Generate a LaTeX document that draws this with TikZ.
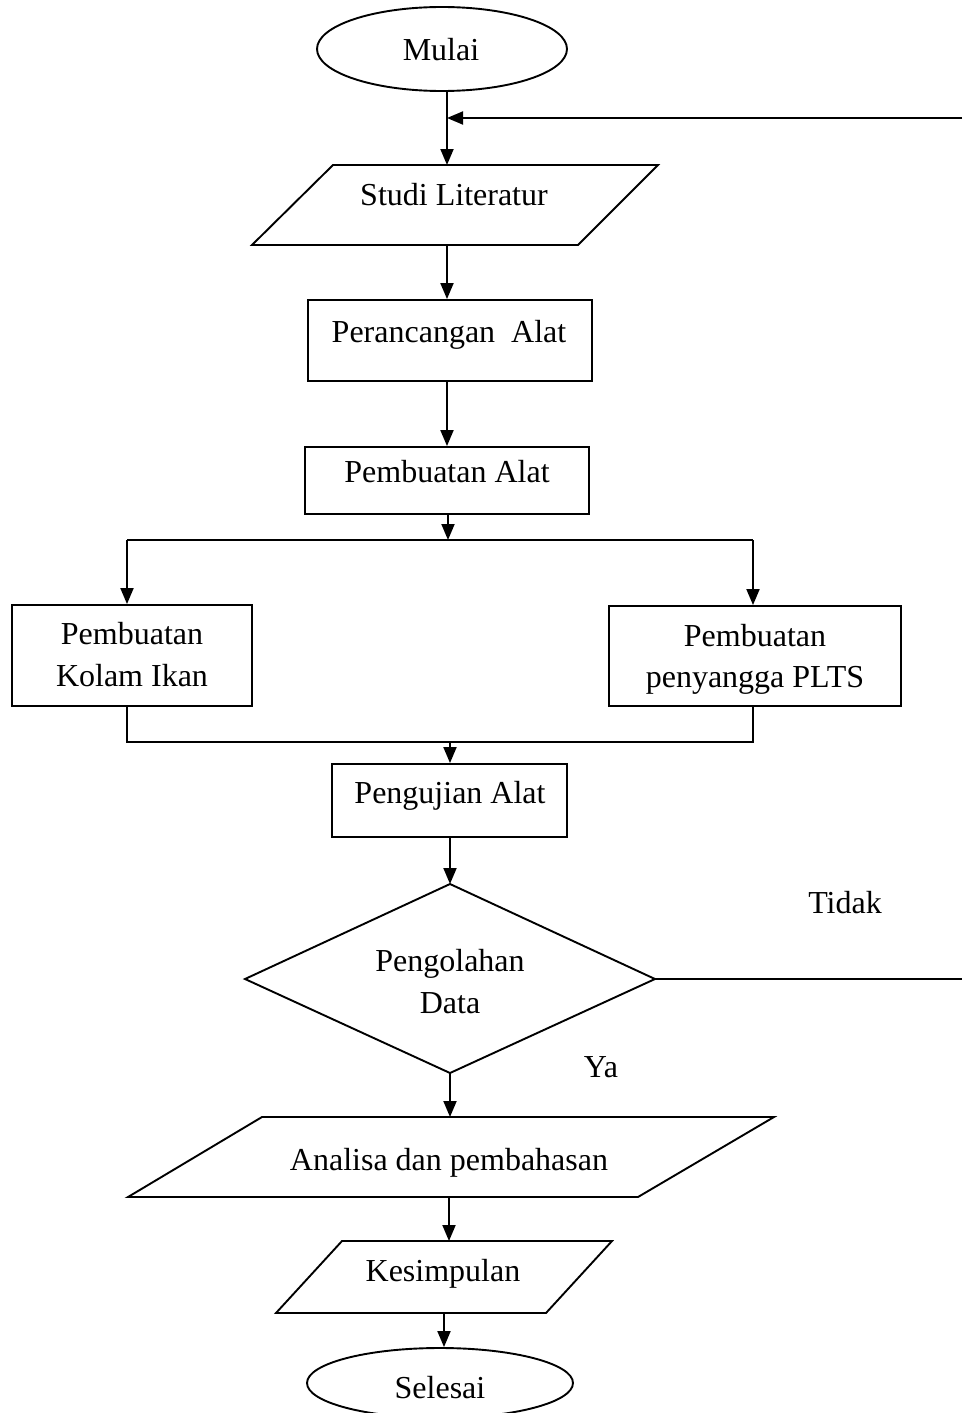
\documentclass[tikz,border=0pt]{standalone}
\usepackage{fontspec}
\setmainfont{Liberation Serif}
\usetikzlibrary{arrows.meta,shapes.geometric}
\begin{document}
\begin{tikzpicture}[x=1pt,y=-1pt,
  line width=1.9pt,
  box/.style={draw, rectangle, inner sep=0pt},
  oval/.style={draw, ellipse, inner sep=0pt},
  txt/.style={anchor=base, inner sep=0pt, font=\fontsize{32}{38}\selectfont},
  arr/.style={-{Triangle[length=16pt,width=13pt]}}]
\useasboundingbox (0,0) rectangle (962,1413);

% start
\node[oval, minimum width=250pt, minimum height=84pt] (mulai) at (442,49) {};
\node[txt] (mulaitxt) at (441,61) {Mulai};

% studi literatur
\coordinate (sTL) at (333,165); \coordinate (sTR) at (658,165);
\coordinate (sBR) at (578,245); \coordinate (sBL) at (252,245);
\coordinate (studiT) at (447,165); \coordinate (studiB) at (447,245);
\draw (sTL) -- (sTR) -- (sBR) -- (sBL) -- cycle;
\node[txt] (studitxt) at (454,205) {Studi Literatur};

% perancangan
\node[box, minimum width=284pt, minimum height=81pt] (peran) at (450,340.5) {};
\node[txt] (perantxt) at (449,342) {Perancangan\ \ Alat};

% pembuatan alat
\node[box, minimum width=284pt, minimum height=67pt] (buat) at (447,480.5) {};
\node[txt] (buattxt) at (447,482) {Pembuatan Alat};

% branches
\coordinate (split) at (448,540);
\coordinate (splitL) at (127,540);
\coordinate (splitR) at (753,540);
\coordinate (join) at (450,742);

\node[box, minimum width=240pt, minimum height=101pt] (kolam) at (132,655.5) {};
\node[txt] (kolamA) at (132,644) {Pembuatan};
\node[txt] (kolamB) at (132,686) {Kolam Ikan};

\node[box, minimum width=292pt, minimum height=100pt] (sangga) at (755,656) {};
\node[txt] (sanggaA) at (755,646) {Pembuatan};
\node[txt] (sanggaB) at (755,687) {penyangga PLTS};

% pengujian
\node[box, minimum width=235pt, minimum height=73pt] (uji) at (449.5,800.5) {};
\node[txt] (ujitxt) at (450,803) {Pengujian Alat};

% decision
\coordinate (dT) at (450,884); \coordinate (dR) at (655,979);
\coordinate (dB) at (450,1073); \coordinate (dL) at (245,979);
\draw (dT) -- (dR) -- (dB) -- (dL) -- cycle;
\node[txt] (dA) at (450,971) {Pengolahan};
\node[txt] (dBt) at (450,1013) {Data};
\node[txt] (tidak) at (845,913) {Tidak};
\node[txt] (ya) at (601,1077) {Ya};

% analisa
\coordinate (aTL) at (262,1117); \coordinate (aTR) at (774,1117);
\coordinate (aBR) at (638,1197); \coordinate (aBL) at (128,1197);
\coordinate (aT) at (450,1117); \coordinate (aB) at (449,1197);
\draw (aTL) -- (aTR) -- (aBR) -- (aBL) -- cycle;
\node[txt] (anatxt) at (449,1170) {Analisa dan pembahasan};

% kesimpulan
\coordinate (kTL) at (342,1241); \coordinate (kTR) at (612,1241);
\coordinate (kBR) at (546,1313); \coordinate (kBL) at (276,1313);
\coordinate (kT) at (449,1241); \coordinate (kB) at (444,1313);
\draw (kTL) -- (kTR) -- (kBR) -- (kBL) -- cycle;
\node[txt] (kestxt) at (443,1281) {Kesimpulan};

% end
\node[oval, minimum width=266pt, minimum height=70pt] (selesai) at (440,1383) {};
\node[txt] (selesaitxt) at (440,1398) {Selesai};

% return line ends
\coordinate (retR) at (962,118);
\coordinate (tidakR) at (962,979);

% connectors
\draw[arr] (mulai.south -| studiT) -- (studiT);
\draw[arr] (retR) -- (retR -| studiT);
\draw[arr] (studiB) -- (studiB |- peran.north);
\draw[arr] (studiB |- peran.south) -- (studiB |- buat.north);
\draw[arr] (split |- buat.south) -- (split);
\draw (splitL) -- (splitR);
\draw[arr] (splitL) -- (splitL |- kolam.north);
\draw[arr] (splitR) -- (splitR |- sangga.north);
\draw (splitL |- kolam.south) -- (splitL |- join) -- (splitR |- join) -- (splitR |- sangga.south);
\draw[arr] (join) -- (join |- uji.north);
\draw[arr] (join |- uji.south) -- (dT);
\draw (dR) -- (tidakR);
\draw[arr] (dB) -- (aT);
\draw[arr] (aB) -- (kT);
\draw[arr] (kB) -- (kB |- selesai.north);
\end{tikzpicture}
\end{document}
